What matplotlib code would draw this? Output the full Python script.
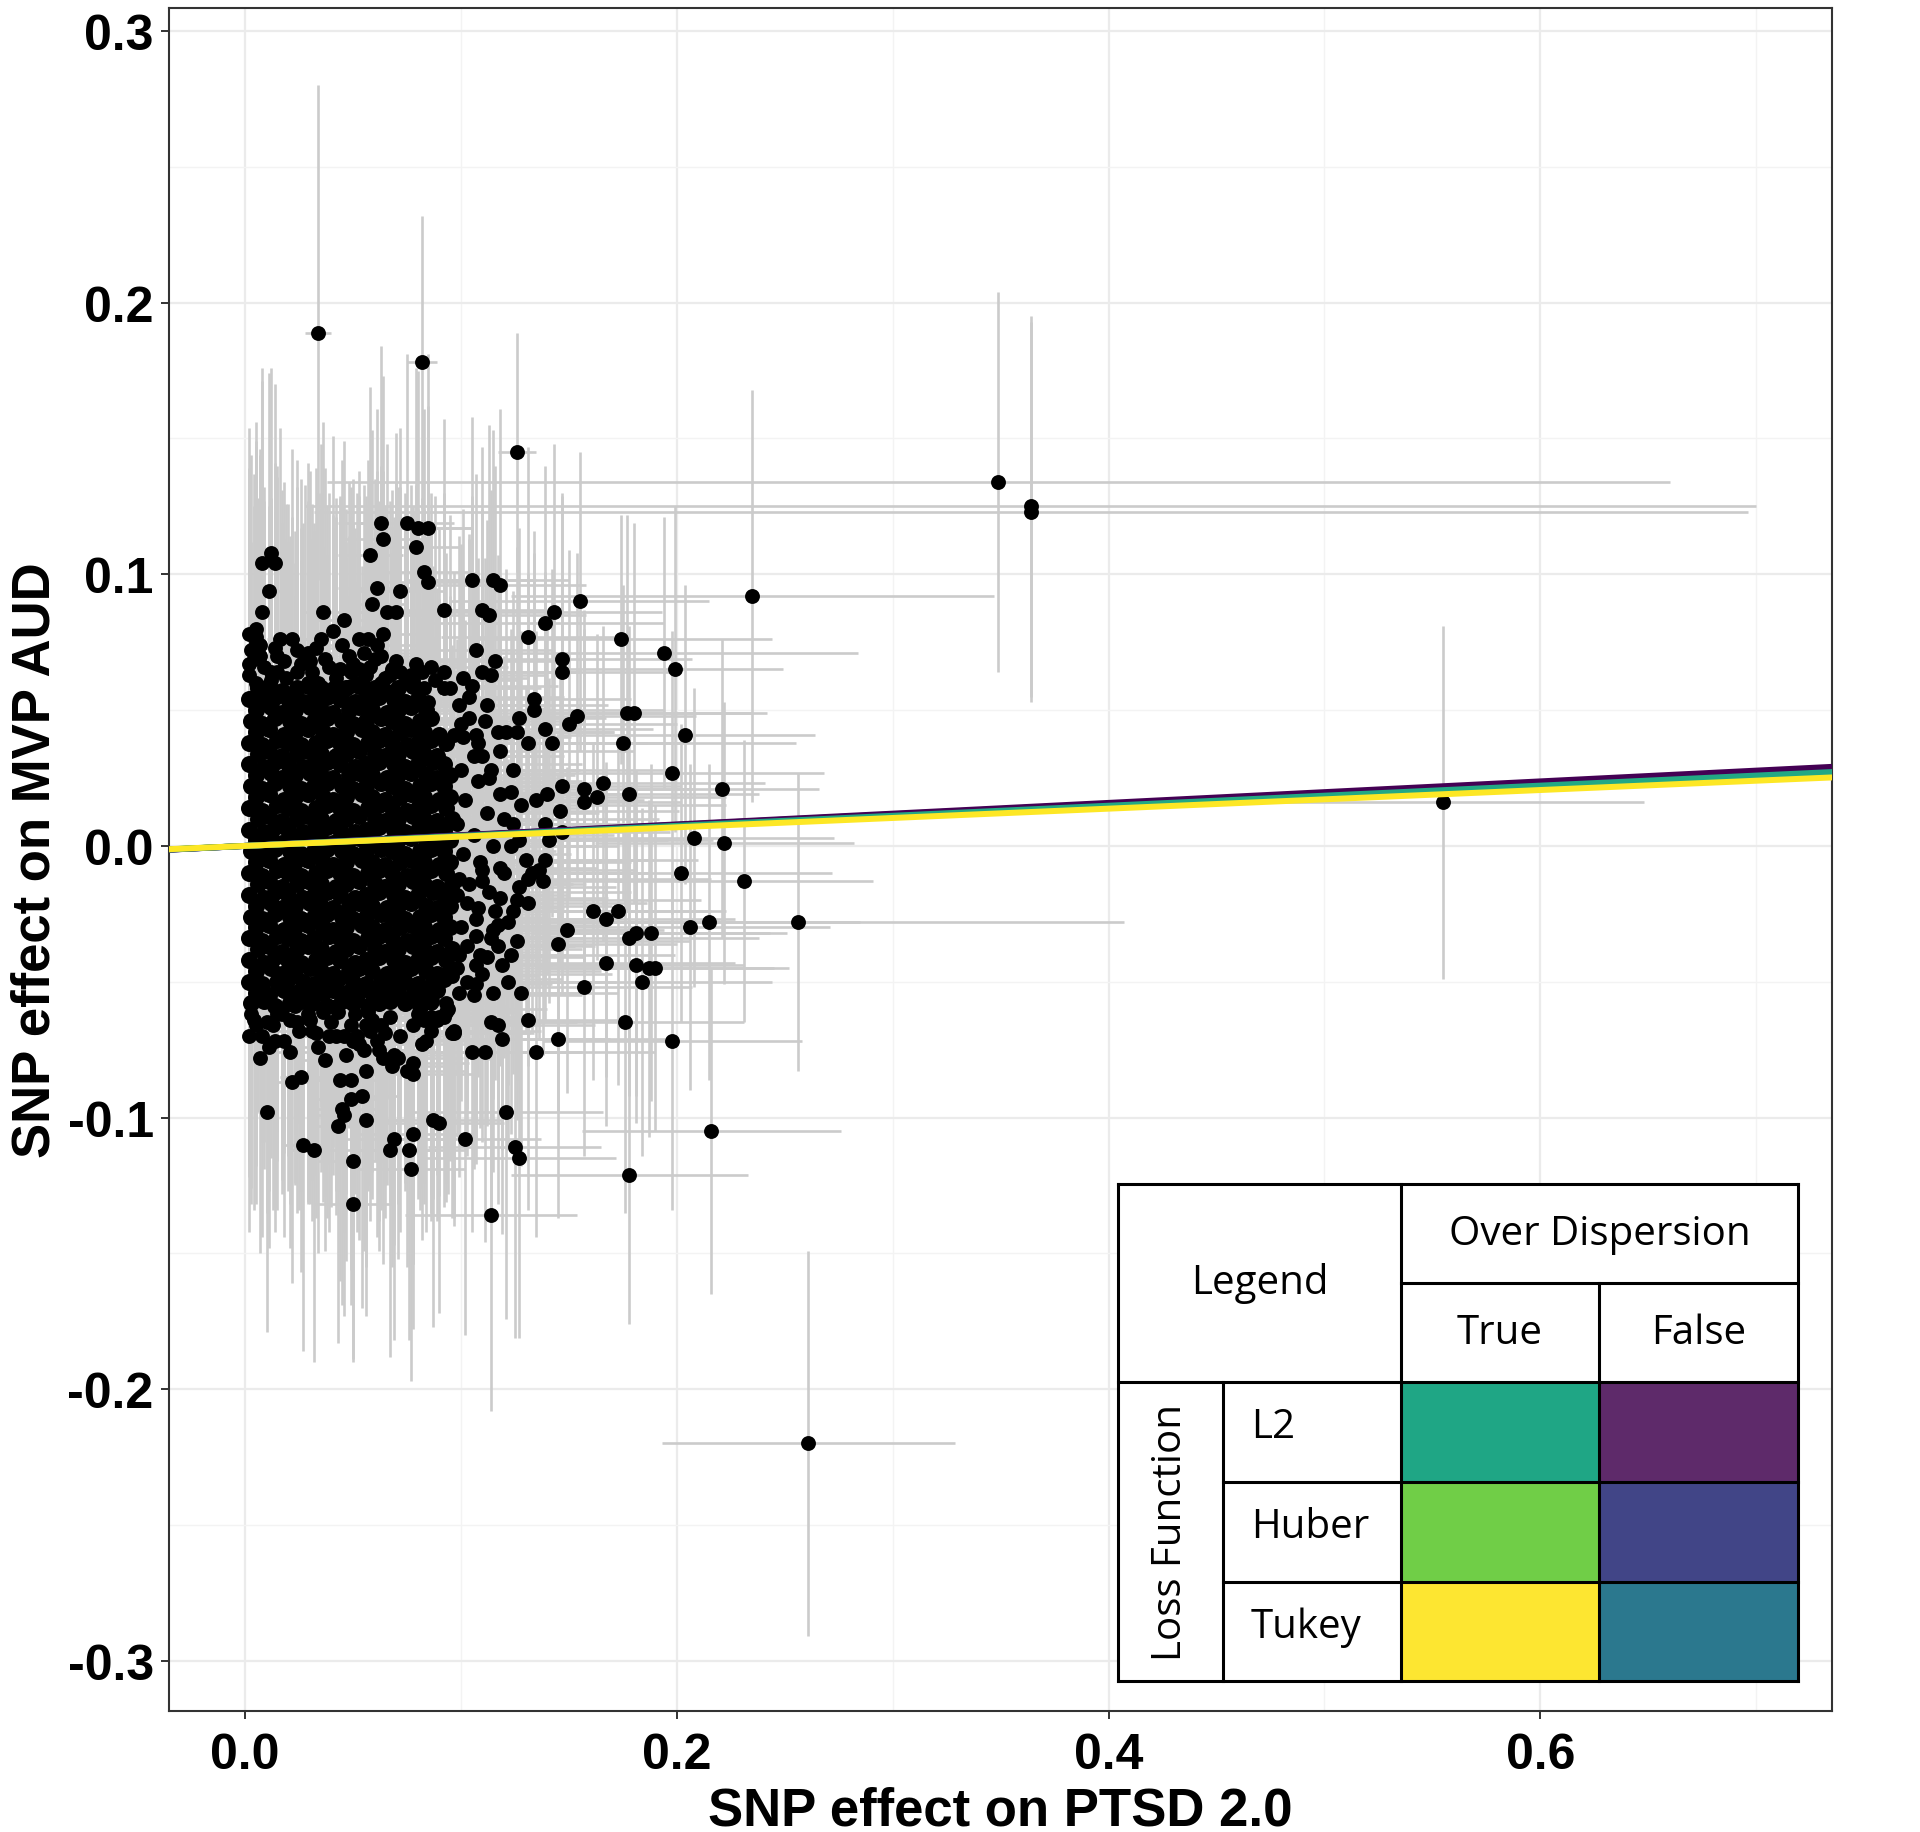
"""plot.py
SNP effects: PTSD 2.0 (x) vs MVP AUD (y), with robust-fit lines and a legend table.
Output: out.png
"""
import matplotlib
matplotlib.use("Agg")
import matplotlib.pyplot as plt
from matplotlib.patches import Rectangle
from matplotlib.lines import Line2D
from matplotlib.ticker import MultipleLocator, FormatStrFormatter

OUTPUT_FILE = "out.png"

plt.rcParams["font.family"] = ["Liberation Sans", "DejaVu Sans"]
plt.rcParams["font.weight"] = "bold"

# SNP values in thousandths: x = effect on PTSD, y = effect on AUD,
# xe / ye = standard errors (drawn as +-1 bars).

# far SNPs with long bars
far_x = [349, 364, 364, 555, 261, 235, 256, 34, 82, 126]
far_y = [134, 125, 123, 16, -220, 92, -28, 189, 178, 145]
far_xe = [311, 336, 332, 93, 68, 112, 151, 6, 7, 9]
far_ye = [70, 70, 70, 65, 71, 76, 55, 91, 54, 44]

# right side, above the fitted line
ru_x = [105, 115, 118, 92, 110, 113, 155, 143, 139, 131, 174, 194, 199, 107, 116, 110, 114, 92, 101, 105,
        95, 147, 147, 134, 134, 177, 180, 154, 150, 127, 111, 175, 204, 100, 97, 117, 121, 126, 131, 139,
        142, 107, 108, 198, 221, 178, 147, 157, 166, 163, 157, 135, 140, 146, 118, 123, 110, 114, 113, 124,
        139, 147, 208, 222, 123, 141]
ru_y = [98, 98, 96, 87, 87, 85, 90, 86, 82, 77, 76, 71, 65, 72, 68, 64, 63, 64, 62, 59,
        58, 69, 64, 54, 50, 49, 49, 48, 45, 47, 46, 38, 41, 45, 41, 42, 42, 42, 38, 43,
        38, 41, 38, 27, 21, 19, 22, 21, 23, 18, 16, 17, 19, 13, 19, 20, 33, 28, 25, 8,
        8, 5, 3, 1, 0, 2]
ru_xe = [30, 35, 40, 20, 30, 45, 60, 50, 55, 40, 70, 90, 50, 35, 30, 45, 25, 25, 30, 40,
         30, 60, 55, 45, 60, 65, 55, 55, 50, 40, 35, 80, 60, 30, 35, 40, 50, 45, 55, 50,
         60, 30, 35, 70, 45, 60, 55, 50, 75, 60, 45, 50, 40, 55, 40, 35, 30, 40, 35, 45,
         60, 50, 65, 60, 40, 55]
ru_ye = [60, 55, 65, 70, 60, 70, 55, 62, 58, 70, 46, 50, 60, 65, 72, 60, 68, 66, 62, 70,
         64, 60, 66, 62, 58, 73, 70, 60, 64, 70, 60, 58, 55, 66, 60, 65, 60, 68, 62, 58,
         64, 60, 68, 52, 55, 62, 60, 66, 58, 60, 64, 62, 66, 58, 64, 60, 66, 62, 60, 64,
         58, 60, 55, 52, 62, 60]

# right side, below the fitted line
rl_x = [202, 231, 215, 206, 161, 167, 173, 149, 145, 178, 181, 188, 167, 181, 187, 190, 184, 157, 176, 198,
        145, 131, 135, 128, 115, 122, 114, 117, 119, 97, 105, 111, 216, 178, 121, 102, 125, 127, 114, 90,
        139, 136, 133, 138, 118, 110, 110, 99, 127, 118, 131, 103, 108, 124, 117, 107, 114, 117, 109, 112,
        107, 98, 103, 107, 99, 93, 92]
rl_y = [-10, -13, -28, -30, -24, -27, -24, -31, -36, -34, -32, -32, -43, -44, -45, -45, -50, -52, -65, -72,
        -71, -64, -76, -54, -54, -50, -65, -66, -71, -69, -76, -76, -105, -121, -98, -108, -111, -115, -136, -102,
        -5, -9, -10, -13, -8, -9, -13, -12, -15, -19, -21, -21, -23, -24, -29, -33, -34, -37, -40, -41,
        -44, -45, -50, -51, -54, -58, -63]
rl_xe = [70, 60, 70, 65, 55, 60, 50, 45, 55, 60, 70, 55, 60, 50, 65, 55, 60, 50, 55, 60,
         50, 45, 55, 45, 40, 50, 40, 45, 50, 35, 40, 45, 60, 55, 45, 35, 40, 45, 40, 30,
         50, 45, 55, 40, 45, 35, 40, 30, 45, 50, 55, 35, 40, 45, 50, 40, 35, 45, 40, 45,
         35, 30, 40, 35, 30, 25, 25]
rl_ye = [55, 52, 58, 60, 62, 58, 64, 60, 62, 58, 60, 62, 60, 58, 62, 60, 64, 62, 70, 62,
         66, 70, 68, 64, 66, 62, 70, 66, 72, 68, 66, 70, 60, 55, 76, 72, 70, 66, 72, 70,
         60, 62, 58, 64, 60, 66, 62, 64, 60, 62, 60, 66, 62, 60, 64, 62, 66, 60, 64, 62,
         64, 62, 64, 66, 68, 66, 70]

# top of the main cluster
top_x = [63, 64, 75, 80, 85, 79, 58, 12, 8, 14, 11, 83, 85, 61, 72, 59, 66, 70, 8, 36,
         46, 41, 5, 5, 5, 16, 22, 14, 35, 33, 29, 28, 45, 53, 57, 61, 63, 64, 79,
         2, 4, 7, 2, 5, 12, 15, 24, 29, 34, 44, 49, 53, 56, 63, 67, 72, 78, 83, 4,
         9, 22, 32, 41, 45, 49, 56, 69, 75, 85]
top_y = [119, 113, 119, 117, 117, 110, 107, 108, 104, 104, 94, 101, 97, 95, 94, 89, 86, 86, 86, 86,
         83, 79, 80, 77, 75, 76, 76, 73, 76, 73, 71, 69, 74, 76, 76, 74, 70, 78, 67,
         67, 69, 70, 63, 60, 64, 64, 64, 60, 60, 65, 64, 65, 63, 60, 63, 64, 61, 58, 55,
         55, 55, 51, 58, 55, 59, 58, 53, 52, 53]
top_xe = [20, 18, 22, 25, 20, 20, 15, 5, 4, 6, 5, 22, 25, 18, 20, 15, 20, 22, 4, 10,
          12, 12, 3, 3, 2, 6, 8, 5, 10, 10, 8, 9, 12, 14, 15, 18, 16, 20, 22,
          1, 2, 3, 1, 2, 5, 6, 8, 9, 10, 12, 14, 15, 16, 18, 20, 22, 25, 28, 2,
          4, 8, 10, 12, 14, 15, 18, 22, 25, 30]
top_ye = [65, 60, 62, 58, 64, 66, 62, 68, 72, 66, 80, 60, 65, 66, 60, 64, 62, 66, 85, 70,
          66, 72, 76, 70, 74, 78, 70, 68, 72, 66, 70, 64, 68, 62, 66, 64, 70, 60, 66,
          72, 68, 74, 66, 70, 64, 72, 68, 66, 70, 64, 68, 62, 66, 70, 64, 68, 62, 66, 70,
          72, 66, 68, 64, 70, 62, 66, 68, 64, 62]

# bottom of the main cluster
bot_x = [10, 7, 10, 17, 21, 24, 23, 22, 26, 37, 33, 39, 42, 37, 42, 43, 49, 52, 50, 55,
         56, 59, 61, 65, 64, 68, 69, 56, 44, 49, 54, 49, 45, 46, 43, 56, 32, 27, 50, 50,
         69, 67, 78, 76, 77, 75, 78, 78, 82, 87, 81, 86, 83, 86, 90, 93, 96, 97, 3, 5,
         2, 14, 30]
bot_y = [-65, -78, -98, -62, -64, -65, -59, -87, -85, -79, -69, -70, -70, -59, -59, -61, -66, -70, -72, -75,
         -66, -64, -72, -69, -78, -81, -77, -83, -86, -86, -92, -93, -97, -99, -103, -101, -112, -110, -116, -132,
         -108, -112, -106, -112, -119, -83, -84, -80, -73, -101, -60, -58, -64, -63, -63, -61, -69, -68, -62, -66,
         -70, -72, -64]
bot_xe = [4, 3, 4, 6, 8, 9, 8, 8, 10, 12, 12, 14, 15, 12, 14, 15, 16, 18, 17, 20,
          18, 20, 22, 24, 22, 25, 26, 20, 15, 16, 18, 16, 15, 16, 14, 18, 10, 9, 16, 18,
          24, 22, 28, 26, 25, 27, 28, 26, 30, 32, 28, 30, 30, 32, 35, 35, 38, 40, 1, 2,
          1, 5, 10]
bot_ye = [70, 72, 81, 66, 68, 70, 66, 74, 72, 70, 68, 72, 66, 70, 68, 66, 70, 72, 68, 74,
          70, 66, 72, 68, 76, 74, 70, 72, 74, 70, 78, 76, 72, 74, 80, 72, 78, 76, 74, 57,
          74, 76, 72, 70, 78, 72, 70, 74, 72, 76, 66, 70, 68, 72, 66, 70, 68, 72, 70, 66,
          72, 70, 68]

# ragged rim around the dense core (top band, bottom band, right band)
rim_x = [3, 9, 15, 19, 26, 31, 37, 42, 48, 52, 58, 65, 70, 74, 82, 88, 2, 7, 18, 24,
         39, 50, 55, 68, 77, 86, 92, 60, 30, 12,
         4, 8, 13, 18, 25, 29, 34, 40, 46, 51, 58, 62, 67, 72, 78, 84, 89, 94, 15, 31,
         47, 57, 71, 80, 36, 21, 63, 86, 11, 53,
         99, 104, 101, 106, 100, 108, 102, 112, 98, 106, 115, 101, 109, 120, 104, 113, 98, 122, 107, 100,
         115, 126, 103, 119, 99, 110, 126, 120, 127, 130, 118, 124, 104, 112, 128, 116, 123, 131, 96, 106]
rim_y = [72, 66, 70, 62, 67, 64, 69, 62, 70, 60, 66, 62, 68, 60, 64, 61, 78, 74, 68, 72,
         66, 67, 71, 65, 63, 66, 58, 69, 68, 61,
         -64, -70, -66, -72, -68, -62, -74, -65, -70, -62, -68, -75, -63, -70, -66, -72, -64, -60, -62, -68,
         -77, -61, -78, -62, -61, -76, -66, -68, -74, -73,
         52, 47, 40, 33, 28, 24, 17, 12, 8, 4, 0, -3, -6, -10, -14, -17, -18, -28, -27, -30,
         -31, -35, -37, -44, -40, -47, -20, 10, 2, -5, 35, 28, 55, 52, 15, -24, -40, -12, -48, -55]
rim_xe = [1, 4, 6, 8, 10, 12, 14, 16, 18, 20, 22, 25, 28, 30, 34, 38, 1, 3, 7, 9,
          15, 20, 22, 28, 32, 36, 45, 24, 11, 5,
          2, 3, 5, 7, 10, 11, 13, 16, 18, 20, 24, 26, 28, 30, 34, 38, 42, 46, 6, 12,
          18, 22, 30, 36, 14, 8, 26, 40, 4, 21,
          40, 45, 50, 42, 55, 48, 60, 52, 45, 65, 58, 50, 70, 62, 48, 66, 40, 75, 55, 45,
          68, 80, 50, 70, 42, 60, 85, 72, 90, 80, 62, 74, 44, 56, 95, 70, 76, 85, 40, 50]
rim_ye = [72, 66, 70, 64, 68, 62, 70, 66, 64, 70, 68, 62, 66, 70, 64, 68, 76, 72, 66, 70,
          64, 68, 62, 66, 70, 64, 68, 66, 70, 64,
          70, 74, 68, 72, 66, 70, 76, 68, 72, 66, 70, 74, 68, 72, 66, 70, 74, 68, 72, 70,
          76, 66, 74, 68, 70, 72, 68, 70, 74, 72,
          62, 66, 60, 68, 64, 62, 66, 60, 68, 64, 62, 66, 60, 68, 64, 62, 66, 60, 68, 64,
          62, 66, 60, 68, 64, 62, 66, 60, 68, 64, 62, 66, 60, 68, 64, 62, 66, 60, 68, 64]

# dense core of the cluster (estimated, one line per band of y)
core_x = [3, 9, 14, 21, 26, 31, 38, 45, 50, 57, 62, 67, 74, 81, 86,
          5, 11, 18, 23, 29, 36, 41, 47, 52, 59, 65, 71, 78, 83, 89,
          2, 8, 15, 20, 27, 32, 38, 43, 50, 56, 63, 68, 74, 80, 87, 92,
          5, 12, 17, 23, 30, 35, 41, 48, 53, 59, 66, 71, 77, 84, 89, 95,
          2, 9, 14, 20, 26, 33, 38, 44, 51, 56, 62, 69, 74, 80, 86, 93,
          6, 11, 17, 24, 29, 35, 42, 47, 53, 60, 65, 71, 78, 83, 89, 96,
          2, 8, 15, 20, 26, 32, 39, 44, 50, 57, 62, 68, 75, 80, 86, 92,
          5, 11, 18, 23, 29, 36, 41, 47, 54, 59, 65, 72, 77, 83, 90, 95,
          3, 8, 14, 21, 26, 32, 38, 45, 50, 56, 63, 68, 74, 81, 86, 92,
          5, 12, 17, 23, 30, 35, 41, 48, 53, 59, 66, 71, 77, 84, 89, 95,
          2, 9, 14, 20, 27, 32, 38, 44, 51, 56, 62, 69, 74, 80, 87, 92,
          6, 11, 17, 24, 29, 35, 42, 47, 53, 60, 65, 71, 78, 83, 89, 96,
          2, 8, 15, 20, 26, 33, 38, 44, 50, 57, 62, 68, 75, 80, 86, 93,
          5, 11, 18, 23, 29, 36, 41, 47, 54, 59, 65, 72, 77, 83, 90, 95,
          3, 8, 14, 21, 26, 32, 38, 45, 50, 56, 63, 68, 74, 81, 86, 92,
          5, 12, 17, 23, 30, 35, 41, 48, 53, 59, 66, 71, 77, 84, 89, 95,
          2, 9, 14, 20, 27, 32, 38, 44, 51, 56, 62, 69, 74, 80, 87, 92,
          6, 11, 17, 24, 29, 35, 42, 47, 53, 60, 65, 71, 78, 83, 89, 96,
          2, 8, 15, 20, 26, 33, 38, 44, 50, 57, 62, 68, 75, 80, 86, 93,
          5, 11, 18, 23, 29, 36, 41, 47, 54, 59, 65, 72, 77, 83, 90, 95,
          3, 8, 14, 21, 26, 32, 38, 45, 50, 56, 63, 68, 74, 81, 86, 92,
          5, 12, 17, 23, 30, 35, 41, 48, 53, 59, 66, 71, 77, 84, 89, 95,
          2, 9, 14, 20, 27, 32, 38, 44, 51, 56, 62, 69, 74, 80, 87, 92,
          6, 11, 17, 24, 29, 35, 42, 47, 53, 60, 65, 71, 78, 83, 89,
          2, 8, 15, 20, 26, 33, 38, 44, 50, 57, 62, 68, 75, 80, 86, 93,
          5, 11, 18, 23, 29, 36, 41, 47, 54, 59, 65, 72, 77, 83, 90,
          3, 8, 14, 21, 26, 32, 38, 45, 50, 56, 63, 68, 74, 81, 86,
          5, 12, 17, 23, 30, 35, 41, 48, 53, 59, 66, 71, 77, 84,
          2, 9, 14, 20, 27, 32, 38, 44, 51, 56, 62, 69, 74, 80,
          6, 11, 17, 24, 29, 35, 42, 47, 53, 60, 65, 71, 78]
core_y = [-58, -57, -59, -58, -57, -58, -59, -57, -58, -59, -58, -57, -58, -59, -57,
          -54, -55, -53, -54, -55, -54, -53, -54, -55, -54, -53, -54, -55, -54, -53,
          -50, -51, -50, -49, -50, -51, -50, -49, -50, -51, -50, -49, -50, -51, -50, -49,
          -46, -45, -47, -46, -45, -46, -47, -46, -45, -46, -47, -46, -45, -46, -47, -46,
          -42, -43, -41, -42, -43, -42, -41, -42, -43, -42, -41, -42, -43, -42, -41, -42,
          -38, -37, -39, -38, -37, -38, -39, -38, -37, -38, -39, -38, -37, -38, -39, -38,
          -34, -35, -33, -34, -35, -34, -33, -34, -35, -34, -33, -34, -35, -34, -33, -34,
          -30, -29, -31, -30, -29, -30, -31, -30, -29, -30, -31, -30, -29, -30, -31, -30,
          -26, -27, -25, -26, -27, -26, -25, -26, -27, -26, -25, -26, -27, -26, -25, -26,
          -22, -21, -23, -22, -21, -22, -23, -22, -21, -22, -23, -22, -21, -22, -23, -22,
          -18, -19, -17, -18, -19, -18, -17, -18, -19, -18, -17, -18, -19, -18, -17, -18,
          -14, -13, -15, -14, -13, -14, -15, -14, -13, -14, -15, -14, -13, -14, -15, -14,
          -10, -11, -9, -10, -11, -10, -9, -10, -11, -10, -9, -10, -11, -10, -9, -10,
          -6, -5, -7, -6, -5, -6, -7, -6, -5, -6, -7, -6, -5, -6, -7, -6,
          -2, -3, -1, -2, -3, -2, -1, -2, -3, -2, -1, -2, -3, -2, -1, -2,
          2, 3, 1, 2, 3, 2, 1, 2, 3, 2, 1, 2, 3, 2, 1, 2,
          6, 5, 7, 6, 5, 6, 7, 6, 5, 6, 7, 6, 5, 6, 7, 6,
          10, 11, 9, 10, 11, 10, 9, 10, 11, 10, 9, 10, 11, 10, 9, 10,
          14, 13, 15, 14, 13, 14, 15, 14, 13, 14, 15, 14, 13, 14, 15, 14,
          18, 19, 17, 18, 19, 18, 17, 18, 19, 18, 17, 18, 19, 18, 17, 18,
          22, 21, 23, 22, 21, 22, 23, 22, 21, 22, 23, 22, 21, 22, 23, 22,
          26, 27, 25, 26, 27, 26, 25, 26, 27, 26, 25, 26, 27, 26, 25, 26,
          30, 29, 31, 30, 29, 30, 31, 30, 29, 30, 31, 30, 29, 30, 31, 30,
          34, 35, 33, 34, 35, 34, 33, 34, 35, 34, 33, 34, 35, 34, 33,
          38, 37, 39, 38, 37, 38, 39, 38, 37, 38, 39, 38, 37, 38, 39, 38,
          42, 43, 41, 42, 43, 42, 41, 42, 43, 42, 41, 42, 43, 42, 41,
          46, 45, 47, 46, 45, 46, 47, 46, 45, 46, 47, 46, 45, 46, 47,
          50, 51, 49, 50, 51, 50, 49, 50, 51, 50, 49, 50, 51, 50,
          54, 53, 55, 54, 53, 54, 55, 54, 53, 54, 55, 54, 53, 54,
          58, 59, 57, 58, 59, 58, 57, 58, 59, 58, 57, 58, 59]
core_xe = [1, 4, 6, 9, 8, 14, 12, 20, 15, 25, 18, 30, 22, 40, 28,
           2, 5, 7, 10, 12, 11, 18, 16, 24, 20, 30, 26, 35, 45, 38,
           1, 3, 7, 8, 10, 13, 15, 18, 22, 20, 28, 24, 35, 30, 45, 55,
           2, 5, 6, 11, 10, 15, 14, 22, 18, 28, 24, 35, 30, 42, 36, 70,
           1, 4, 5, 9, 11, 12, 16, 15, 24, 20, 30, 26, 38, 34, 50, 45,
           2, 4, 8, 10, 9, 16, 15, 20, 18, 26, 24, 32, 28, 40, 48, 60,
           1, 3, 6, 9, 10, 12, 14, 20, 16, 25, 22, 30, 34, 28, 42, 65,
           2, 5, 7, 8, 12, 14, 13, 22, 20, 24, 30, 28, 36, 44, 40, 55,
           1, 4, 6, 10, 8, 15, 14, 18, 22, 20, 28, 34, 26, 38, 52, 48,
           2, 4, 8, 9, 13, 11, 17, 20, 18, 26, 24, 32, 40, 30, 45, 75,
           1, 3, 5, 9, 11, 14, 12, 19, 24, 22, 27, 25, 36, 42, 34, 58,
           2, 5, 7, 11, 10, 15, 16, 18, 22, 28, 23, 34, 30, 46, 40, 62,
           1, 4, 6, 8, 12, 13, 15, 21, 17, 25, 30, 26, 38, 32, 55, 48,
           2, 5, 8, 10, 9, 16, 14, 22, 20, 24, 28, 36, 30, 44, 38, 70,
           1, 3, 7, 9, 11, 12, 17, 15, 23, 21, 30, 28, 34, 40, 46, 52,
           2, 4, 6, 11, 12, 14, 13, 21, 19, 27, 25, 31, 38, 34, 50, 60,
           1, 4, 5, 8, 10, 15, 14, 18, 24, 20, 29, 26, 35, 45, 36, 66,
           2, 5, 7, 10, 13, 11, 18, 16, 22, 26, 24, 33, 30, 42, 48, 56,
           1, 3, 6, 9, 9, 14, 16, 20, 18, 25, 22, 32, 36, 30, 44, 62,
           2, 5, 8, 8, 12, 15, 14, 19, 21, 23, 30, 27, 34, 40, 38, 50,
           1, 4, 6, 10, 11, 12, 15, 22, 17, 26, 24, 35, 28, 46, 42, 68,
           2, 4, 7, 9, 10, 16, 13, 20, 23, 21, 28, 30, 38, 32, 52, 58,
           1, 3, 5, 11, 12, 13, 17, 18, 20, 27, 25, 29, 36, 44, 35, 64,
           2, 5, 8, 9, 11, 14, 15, 21, 19, 24, 30, 26, 40, 34, 46,
           1, 4, 6, 10, 9, 15, 14, 17, 22, 25, 23, 33, 30, 42, 38, 54,
           2, 5, 7, 8, 12, 12, 18, 16, 24, 20, 28, 32, 36, 30, 44,
           1, 3, 6, 9, 10, 14, 13, 20, 18, 26, 22, 30, 34, 40, 36,
           2, 4, 8, 10, 11, 13, 16, 19, 21, 23, 29, 27, 35, 38,
           1, 4, 5, 9, 12, 11, 15, 18, 23, 20, 26, 31, 28, 36,
           2, 5, 7, 10, 9, 16, 14, 22, 19, 25, 24, 30, 34]
core_ye = [68, 62, 74, 58, 70, 65, 78, 60, 72, 66, 80, 63, 69, 75, 61,
           64, 72, 60, 70, 76, 62, 68, 74, 58, 66, 72, 78, 62, 70, 64,
           72, 58, 66, 78, 62, 70, 60, 68, 76, 64, 58, 70, 74, 62, 80, 66,
           62, 70, 76, 60, 68, 74, 64, 58, 72, 66, 78, 62, 68, 60, 74, 70,
           74, 66, 62, 72, 58, 68, 76, 64, 70, 62, 66, 74, 60, 78, 64, 68,
           60, 76, 68, 64, 72, 58, 66, 70, 62, 78, 64, 68, 72, 66, 60, 74,
           70, 64, 72, 58, 66, 76, 62, 68, 74, 60, 70, 64, 78, 62, 68, 72,
           66, 60, 74, 70, 64, 68, 72, 58, 66, 76, 62, 70, 64, 72, 78, 60,
           72, 68, 62, 76, 60, 66, 70, 74, 62, 68, 58, 72, 66, 64, 70, 76,
           64, 74, 70, 62, 68, 72, 58, 66, 76, 64, 70, 62, 74, 68, 60, 66,
           76, 62, 66, 70, 74, 60, 68, 64, 72, 58, 66, 78, 62, 70, 68, 64,
           62, 70, 58, 68, 64, 74, 66, 72, 60, 70, 76, 62, 68, 64, 72, 58,
           68, 64, 76, 62, 70, 66, 60, 72, 68, 74, 62, 66, 70, 58, 64, 78,
           70, 72, 62, 66, 58, 70, 74, 64, 68, 60, 72, 76, 62, 68, 66, 70,
           64, 60, 70, 74, 68, 62, 66, 72, 58, 70, 64, 68, 74, 60, 72, 66,
           72, 66, 64, 60, 74, 70, 62, 68, 76, 64, 58, 72, 66, 70, 62, 74,
           66, 74, 68, 72, 62, 64, 70, 60, 66, 72, 68, 62, 76, 64, 70, 58,
           62, 68, 72, 66, 70, 76, 60, 74, 64, 62, 70, 66, 68, 72, 58, 64,
           74, 62, 66, 70, 64, 68, 72, 62, 70, 76, 60, 68, 64, 74, 66, 70,
           68, 70, 60, 74, 66, 62, 68, 76, 62, 64, 72, 70, 58, 66, 74, 62,
           64, 76, 70, 62, 72, 66, 58, 68, 74, 60, 66, 72, 70, 62, 68, 76,
           70, 62, 68, 64, 60, 74, 70, 66, 62, 72, 76, 64, 68, 70, 62, 66,
           66, 72, 64, 70, 68, 62, 76, 60, 68, 66, 70, 74, 62, 64, 72, 68,
           72, 64, 70, 66, 74, 60, 68, 72, 64, 70, 62, 66, 76, 68, 62,
           62, 70, 66, 74, 68, 72, 64, 62, 70, 76, 66, 60, 68, 72, 64, 70,
           70, 66, 72, 62, 64, 68, 74, 70, 60, 66, 72, 68, 64, 62, 76,
           66, 74, 62, 68, 72, 66, 60, 70, 74, 64, 68, 62, 70, 66, 72,
           72, 64, 70, 66, 62, 74, 68, 64, 70, 62, 66, 72, 68, 64,
           64, 70, 68, 72, 66, 62, 70, 74, 64, 68, 72, 60, 66, 70,
           70, 66, 74, 62, 68, 72, 64, 66, 70, 62, 68, 74, 66]

# fitted lines through the origin (one per loss function / over-dispersion)
fit_loss = ["Huber", "Tukey", "Huber", "L2", "L2", "Tukey"]
fit_overdisp = ["False", "False", "True", "False", "True", "True"]
fit_slope = [0.0388, 0.0378, 0.0358, 0.0396, 0.0370, 0.0343]

loss_names = ["L2", "Huber", "Tukey"]
overdisp_names = ["True", "False"]

line_colors = {
    ("L2", "True"): "#22A884", ("L2", "False"): "#440154",
    ("Huber", "True"): "#7AD151", ("Huber", "False"): "#414487",
    ("Tukey", "True"): "#FDE725", ("Tukey", "False"): "#2A788E",
}
legend_colors = {
    ("L2", "True"): "#1FA685", ("L2", "False"): "#5E2A6A",
    ("Huber", "True"): "#70CE47", ("Huber", "False"): "#414587",
    ("Tukey", "True"): "#FDE631", ("Tukey", "False"): "#2B788E",
}

# (group, marker area) - the overlapping core is drawn a bit heavier so it reads solid
groups = [
    ((core_x, core_y, core_xe, core_ye), 150),
    ((rim_x, rim_y, rim_xe, rim_ye), 115),
    ((top_x, top_y, top_xe, top_ye), 115),
    ((bot_x, bot_y, bot_xe, bot_ye), 115),
    ((ru_x, ru_y, ru_xe, ru_ye), 115),
    ((rl_x, rl_y, rl_xe, rl_ye), 115),
    ((far_x, far_y, far_xe, far_ye), 115),
]


def milli(values):
    return [v / 1000 for v in values]


fig = plt.figure(figsize=(19.2, 18.33), dpi=100, facecolor="white")
ax = fig.add_axes([0.088, 0.066, 0.8662, 0.9291])
ax.set_xlim(-0.0352, 0.7351)
ax.set_ylim(-0.3185, 0.3085)

# error bars first, then points on top
for (gx, gy, gxe, gye), _ in groups:
    ax.errorbar(milli(gx), milli(gy), xerr=milli(gxe), yerr=milli(gye),
                fmt="none", ecolor="#CBCBCB", elinewidth=1.9, capsize=0, zorder=2)
for (gx, gy, gxe, gye), size in groups:
    ax.scatter(milli(gx), milli(gy), s=size, color="black", linewidths=0, zorder=3)

for loss, od, slope in zip(fit_loss, fit_overdisp, fit_slope):
    ax.axline((0, 0), slope=slope, color=line_colors[(loss, od)], lw=4.3,
              solid_capstyle="butt", zorder=4)

# ggplot theme_bw look
ax.set_axisbelow(True)
ax.xaxis.set_major_locator(MultipleLocator(0.2))
ax.xaxis.set_minor_locator(MultipleLocator(0.1))
ax.yaxis.set_major_locator(MultipleLocator(0.1))
ax.yaxis.set_minor_locator(MultipleLocator(0.05))
ax.xaxis.set_major_formatter(FormatStrFormatter("%.1f"))
ax.yaxis.set_major_formatter(FormatStrFormatter("%.1f"))
ax.grid(which="major", color="#EBEBEB", lw=1.6, zorder=0)
ax.grid(which="minor", color="#F3F3F3", lw=1.0, zorder=0)
for sp in ax.spines.values():
    sp.set_color("#333333")
    sp.set_linewidth(1.5)
ax.tick_params(which="major", length=6, width=1.4, color="#333333",
               labelsize=36, labelcolor="black")
ax.tick_params(axis="x", which="major", pad=9)
ax.tick_params(axis="y", which="major", pad=5)
ax.tick_params(which="minor", length=0)

ax.set_xlabel("SNP effect on PTSD 2.0", fontsize=38, fontweight="bold", va="top")
ax.xaxis.set_label_coords(0.5, -0.0435)
ax.set_ylabel("SNP effect on MVP AUD", fontsize=38, fontweight="bold")
ax.yaxis.set_label_coords(-0.0655, 0.5)

# legend table (axes fractions)
col_edges = [0.5707, 0.6338, 0.7408, 0.8599, 0.9795]
row_edges = [0.3095, 0.2513, 0.1932, 0.1345, 0.0757, 0.0176]
tr = ax.transAxes
leg_font = dict(family=["Open Sans", "DejaVu Sans"], fontweight="normal",
                fontsize=29, color="black", transform=tr, zorder=12)

ax.add_patch(Rectangle((col_edges[0], row_edges[5]), col_edges[4] - col_edges[0],
                       row_edges[0] - row_edges[5], transform=tr, facecolor="white",
                       edgecolor="none", zorder=10))
for i, loss in enumerate(loss_names):
    for j, od in enumerate(overdisp_names):
        ax.add_patch(Rectangle((col_edges[2 + j], row_edges[3 + i]),
                               col_edges[3 + j] - col_edges[2 + j],
                               row_edges[2 + i] - row_edges[3 + i], transform=tr,
                               facecolor=legend_colors[(loss, od)], edgecolor="none",
                               zorder=11))

segments = [
    ((col_edges[0], col_edges[4]), (row_edges[0], row_edges[0])),
    ((col_edges[0], col_edges[4]), (row_edges[5], row_edges[5])),
    ((col_edges[0], col_edges[0]), (row_edges[0], row_edges[5])),
    ((col_edges[4], col_edges[4]), (row_edges[0], row_edges[5])),
    ((col_edges[0], col_edges[4]), (row_edges[2], row_edges[2])),
    ((col_edges[2], col_edges[4]), (row_edges[1], row_edges[1])),
    ((col_edges[1], col_edges[4]), (row_edges[3], row_edges[3])),
    ((col_edges[1], col_edges[4]), (row_edges[4], row_edges[4])),
    ((col_edges[1], col_edges[1]), (row_edges[2], row_edges[5])),
    ((col_edges[2], col_edges[2]), (row_edges[0], row_edges[5])),
    ((col_edges[3], col_edges[3]), (row_edges[1], row_edges[5])),
]
for xs, ys in segments:
    ax.add_line(Line2D(xs, ys, transform=tr, color="black", lw=2.2,
                       solid_capstyle="projecting", zorder=13))

ax.text((col_edges[0] + col_edges[2]) / 2, (row_edges[0] + row_edges[2]) / 2,
        "Legend", ha="center", va="center", **leg_font)
ax.text((col_edges[2] + col_edges[4]) / 2, (row_edges[0] + row_edges[1]) / 2,
        "Over Dispersion", ha="center", va="center", **leg_font)
for j, od in enumerate(overdisp_names):
    ax.text((col_edges[2 + j] + col_edges[3 + j]) / 2, (row_edges[1] + row_edges[2]) / 2,
            od, ha="center", va="center", **leg_font)
ax.text((col_edges[0] + col_edges[1]) / 2, (row_edges[2] + row_edges[5]) / 2,
        "Loss Function", ha="center", va="center", rotation=90, **leg_font)
for i, loss in enumerate(loss_names):
    ax.text(col_edges[1] + 0.0166, (row_edges[2 + i] + row_edges[3 + i]) / 2 + 0.003,
            loss, ha="left", va="center", **leg_font)

fig.savefig(OUTPUT_FILE, dpi=100, facecolor="white")
print(f"saved: {OUTPUT_FILE}")
